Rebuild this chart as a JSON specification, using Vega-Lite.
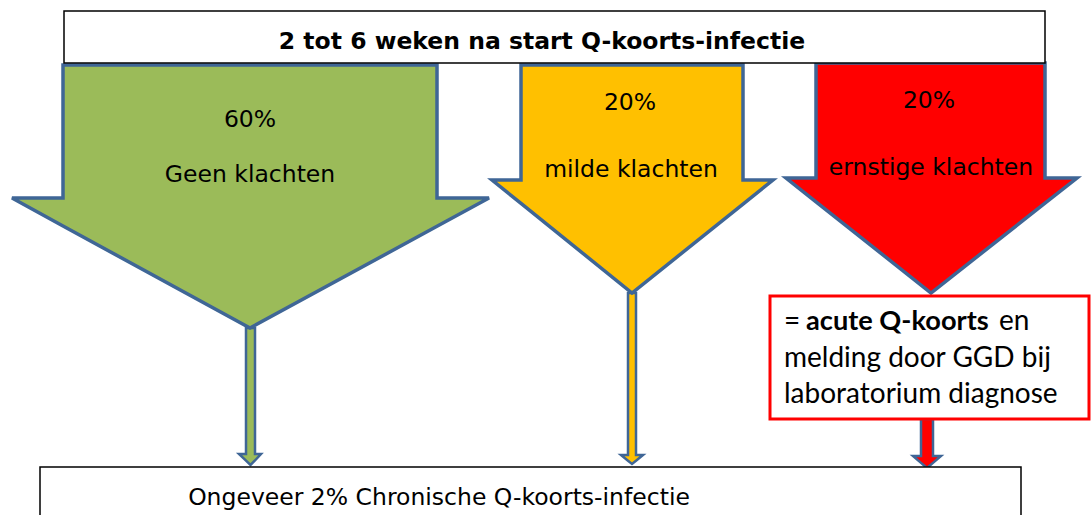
{
  "$schema": "https://vega.github.io/schema/vega-lite/v6.json",
  "width": 1092,
  "height": 515,
  "autosize": {"type": "fit", "contains": "padding"},
  "padding": 0,
  "background": "white",
  "config": {"view": {"stroke": null}},
  "datasets": {
    "thin": [
      {"id": "g", "x": 239, "top": 454, "bottom": 454, "fill": "#9BBB59"},
      {"id": "g", "x": 246, "top": 454, "bottom": 460.7, "fill": "#9BBB59"},
      {"id": "g", "x": 246, "top": 328, "bottom": 460.7, "fill": "#9BBB59"},
      {"id": "g", "x": 250.5, "top": 328, "bottom": 465, "fill": "#9BBB59"},
      {"id": "g", "x": 255, "top": 328, "bottom": 460.5, "fill": "#9BBB59"},
      {"id": "g", "x": 255, "top": 454, "bottom": 460.5, "fill": "#9BBB59"},
      {"id": "g", "x": 261, "top": 454, "bottom": 454, "fill": "#9BBB59"},
      {"id": "y", "x": 621, "top": 455, "bottom": 455, "fill": "#FFC000"},
      {"id": "y", "x": 628, "top": 455, "bottom": 460.7, "fill": "#FFC000"},
      {"id": "y", "x": 628, "top": 293, "bottom": 460.7, "fill": "#FFC000"},
      {"id": "y", "x": 632, "top": 293, "bottom": 464, "fill": "#FFC000"},
      {"id": "y", "x": 636, "top": 293, "bottom": 460.7, "fill": "#FFC000"},
      {"id": "y", "x": 636, "top": 455, "bottom": 460.7, "fill": "#FFC000"},
      {"id": "y", "x": 643, "top": 455, "bottom": 455, "fill": "#FFC000"},
      {"id": "r", "x": 913, "top": 456, "bottom": 456, "fill": "#FF0000"},
      {"id": "r", "x": 921, "top": 456, "bottom": 462.9, "fill": "#FF0000"},
      {"id": "r", "x": 921, "top": 419, "bottom": 462.9, "fill": "#FF0000"},
      {"id": "r", "x": 927, "top": 419, "bottom": 468, "fill": "#FF0000"},
      {"id": "r", "x": 933, "top": 419, "bottom": 462.9, "fill": "#FF0000"},
      {"id": "r", "x": 933, "top": 456, "bottom": 462.9, "fill": "#FF0000"},
      {"id": "r", "x": 941, "top": 456, "bottom": 456, "fill": "#FF0000"}
    ],
    "big": [
      {"id": "g", "x": 12, "top": 198, "bottom": 198, "fill": "#9BBB59"},
      {"id": "g", "x": 63, "top": 198, "bottom": 226, "fill": "#9BBB59"},
      {"id": "g", "x": 63, "top": 65, "bottom": 226, "fill": "#9BBB59"},
      {"id": "g", "x": 250, "top": 65, "bottom": 328, "fill": "#9BBB59"},
      {"id": "g", "x": 437, "top": 65, "bottom": 226.3, "fill": "#9BBB59"},
      {"id": "g", "x": 437, "top": 198, "bottom": 226.3, "fill": "#9BBB59"},
      {"id": "g", "x": 489, "top": 198, "bottom": 198, "fill": "#9BBB59"},
      {"id": "y", "x": 492, "top": 180, "bottom": 180, "fill": "#FFC000"},
      {"id": "y", "x": 521, "top": 180, "bottom": 203.4, "fill": "#FFC000"},
      {"id": "y", "x": 521, "top": 65, "bottom": 203.4, "fill": "#FFC000"},
      {"id": "y", "x": 632, "top": 65, "bottom": 293, "fill": "#FFC000"},
      {"id": "y", "x": 743, "top": 65, "bottom": 204.1, "fill": "#FFC000"},
      {"id": "y", "x": 743, "top": 180, "bottom": 204.1, "fill": "#FFC000"},
      {"id": "y", "x": 773, "top": 180, "bottom": 180, "fill": "#FFC000"},
      {"id": "r", "x": 786, "top": 178, "bottom": 178, "fill": "#FF0000"},
      {"id": "r", "x": 816, "top": 178, "bottom": 201.8, "fill": "#FF0000"},
      {"id": "r", "x": 816, "top": 63, "bottom": 201.8, "fill": "#FF0000"},
      {"id": "r", "x": 931, "top": 63, "bottom": 293, "fill": "#FF0000"},
      {"id": "r", "x": 1045, "top": 63, "bottom": 203.2, "fill": "#FF0000"},
      {"id": "r", "x": 1045, "top": 178, "bottom": 203.2, "fill": "#FF0000"},
      {"id": "r", "x": 1077, "top": 178, "bottom": 178, "fill": "#FF0000"}
    ],
    "blackBoxes": [
      {"name": "top", "x0": 64, "x1": 1045, "y0": 11, "y1": 63},
      {"name": "bottom", "x0": 40, "x1": 1021, "y0": 467, "y1": 540}
    ],
    "redBox": [
      {"name": "acute", "x0": 770, "x1": 1089, "y0": 296, "y1": 419}
    ],
    "title": [
      {"x": 542, "y": 49, "label": "2 tot 6 weken na start Q-koorts-infectie"}
    ],
    "labels": [
      {"x": 250, "y": 127, "label": "60%"},
      {"x": 250, "y": 182, "label": "Geen klachten"},
      {"x": 630, "y": 110, "label": "20%"},
      {"x": 631, "y": 177, "label": "milde klachten"},
      {"x": 929, "y": 108, "label": "20%"},
      {"x": 931, "y": 175, "label": "ernstige klachten"},
      {"x": 439, "y": 505, "label": "Ongeveer 2% Chronische Q-koorts-infectie"}
    ],
    "boxText": [
      {"x": 784, "y": 330, "label": "="},
      {"x": 999, "y": 330, "label": "en"},
      {"x": 784, "y": 367, "label": "melding door GGD bij"},
      {"x": 784, "y": 403, "label": "laboratorium diagnose"}
    ],
    "boxBold": [
      {"x": 806, "y": 330, "label": "acute Q-koorts"}
    ]
  },
  "layer": [
    {
      "data": {"name": "thin"},
      "mark": {"type": "area", "orient": "vertical", "interpolate": "linear", "stroke": "#3F6696", "strokeWidth": 2.5, "strokeJoin": "miter"},
      "encoding": {
        "x": {"field": "x", "type": "quantitative", "scale": {"domain": [0, 1092], "nice": false, "zero": false}, "axis": null},
        "y": {"field": "top", "type": "quantitative", "scale": {"domain": [0, 515], "nice": false, "zero": false, "reverse": true}, "axis": null, "stack": null},
        "y2": {"field": "bottom"},
        "detail": {"field": "id", "type": "nominal"},
        "fill": {"field": "fill", "type": "nominal", "scale": null}
      }
    },
    {
      "data": {"name": "big"},
      "mark": {"type": "area", "orient": "vertical", "interpolate": "linear", "stroke": "#3F6696", "strokeWidth": 3.5, "strokeJoin": "miter", "fillOpacity": 1},
      "encoding": {
        "x": {"field": "x", "type": "quantitative", "axis": null},
        "y": {"field": "top", "type": "quantitative", "axis": null, "stack": null},
        "y2": {"field": "bottom"},
        "detail": {"field": "id", "type": "nominal"},
        "fill": {"field": "fill", "type": "nominal", "scale": null}
      }
    },
    {
      "data": {"name": "blackBoxes"},
      "mark": {"type": "rect", "fill": "white", "stroke": "#000000", "strokeWidth": 1.5, "clip": true},
      "encoding": {
        "x": {"field": "x0", "type": "quantitative", "axis": null},
        "x2": {"field": "x1"},
        "y": {"field": "y0", "type": "quantitative", "axis": null},
        "y2": {"field": "y1"}
      }
    },
    {
      "data": {"name": "redBox"},
      "mark": {"type": "rect", "fill": "white", "stroke": "#FF0000", "strokeWidth": 3},
      "encoding": {
        "x": {"field": "x0", "type": "quantitative", "axis": null},
        "x2": {"field": "x1"},
        "y": {"field": "y0", "type": "quantitative", "axis": null},
        "y2": {"field": "y1"}
      }
    },
    {
      "data": {"name": "title"},
      "mark": {"type": "text", "font": "DejaVu Sans", "fontWeight": "bold", "fontSize": 23.5, "align": "center", "baseline": "alphabetic", "color": "#000000"},
      "encoding": {
        "x": {"field": "x", "type": "quantitative", "axis": null},
        "y": {"field": "y", "type": "quantitative", "axis": null},
        "text": {"field": "label", "type": "nominal"}
      }
    },
    {
      "data": {"name": "labels"},
      "mark": {"type": "text", "font": "DejaVu Sans", "fontSize": 23.5, "align": "center", "baseline": "alphabetic", "color": "#000000"},
      "encoding": {
        "x": {"field": "x", "type": "quantitative", "axis": null},
        "y": {"field": "y", "type": "quantitative", "axis": null},
        "text": {"field": "label", "type": "nominal"}
      }
    },
    {
      "data": {"name": "boxText"},
      "mark": {"type": "text", "font": "Lato", "fontSize": 28, "align": "left", "baseline": "alphabetic", "color": "#000000"},
      "encoding": {
        "x": {"field": "x", "type": "quantitative", "axis": null},
        "y": {"field": "y", "type": "quantitative", "axis": null},
        "text": {"field": "label", "type": "nominal"}
      }
    },
    {
      "data": {"name": "boxBold"},
      "mark": {"type": "text", "font": "Lato", "fontWeight": "bold", "fontSize": 27.2, "align": "left", "baseline": "alphabetic", "color": "#000000"},
      "encoding": {
        "x": {"field": "x", "type": "quantitative", "axis": null},
        "y": {"field": "y", "type": "quantitative", "axis": null},
        "text": {"field": "label", "type": "nominal"}
      }
    }
  ]
}
